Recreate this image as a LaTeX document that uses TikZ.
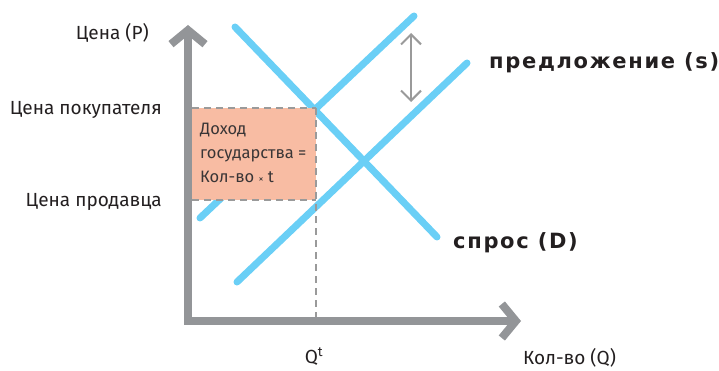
\documentclass[tikz,border=0pt]{standalone}
\usepackage{fontspec}
\setmainfont{Fira Sans}
\newfontfamily\handfont[LetterSpace=8]{DejaVu Sans}
\usetikzlibrary{arrows.meta,positioning}
\definecolor{ink}{HTML}{231F20}
\definecolor{axisgray}{HTML}{939598}
\definecolor{skyblue}{HTML}{6ACFF6}
\definecolor{salmon}{HTML}{F8BCA3}
\definecolor{guidegray}{HTML}{9A9A9A}
\tikzset{
    axis/.style={
        {Straight Barb[length=14pt,width=34pt]}-{Straight Barb[length=14pt,width=34pt]},
        line width=8pt,
        line join=miter,
        color=axisgray
    },
    curveline/.style={
        line width=7pt,
        line cap=round,
        color=skyblue
    },
    guide/.style={
        dash pattern=on 7pt off 5pt,
        line width=2.5pt,
        color=guidegray
    },
    shiftarrow/.style={
        {Straight Barb[length=10pt,width=20pt]}-{Straight Barb[length=10pt,width=20pt]},
        line width=2pt,
        color=guidegray
    },
    axislabel/.style={
        font=\fontsize{19}{22}\selectfont,
        text=ink,
        inner sep=0pt
    },
    curvelabel/.style={
        font=\handfont\fontsize{21}{22}\selectfont\bfseries,
        text=ink,
        inner sep=0pt
    }
}

\begin{document}
\begin{tikzpicture}[x=1pt,y=-1pt]

    \useasboundingbox (0,0) rectangle (719,371);

    % Points
    \coordinate (origin) at (188,321);
    \coordinate (ytip) at (188,25);
    \coordinate (xtip) at (521,321);
    \coordinate (buyer) at (316,108);
    \coordinate (seller) at (316,200);
    \coordinate (qt) at (316,321);
    \coordinate (buyeraxis) at (192,108);
    \coordinate (selleraxis) at (192,200);

    % Courbes
    \coordinate (dtop) at (235,27);
    \coordinate (dbot) at (437,237);
    \coordinate (sabot) at (200,218);
    \coordinate (satop) at (414,16);
    \coordinate (sbbot) at (237,282);
    \coordinate (sbtop) at (467,63);

    \draw[curveline] (dtop) -- (dbot);
    \draw[curveline] (sabot) -- (satop);
    \draw[curveline] (sbbot) -- (sbtop);

    % Recette fiscale
    \fill[salmon]
        (buyeraxis) rectangle (seller);

    \draw[guide]
        (buyeraxis) -- (buyer);
    \draw[guide]
        (selleraxis) -- (seller);
    \draw[guide]
        (buyer) -- (qt);

    % Axes
    \draw[axis]
        (ytip) -- (origin) -- (xtip);

    % Decalage de l'offre
    \coordinate (shifttop) at (411,33);
    \coordinate (shiftbot) at (411,102);
    \draw[shiftarrow]
        (shifttop) -- (shiftbot);

    % Labels
    \node[
        axislabel,
        anchor=east
    ]
        (pname) at (149,33)
        {Цена (P)};

    \node[
        axislabel,
        anchor=east
    ]
        (buyername) at (162,110)
        {Цена покупателя};

    \node[
        axislabel,
        anchor=east
    ]
        (sellername) at (162,202)
        {Цена продавца};

    \node[
        axislabel,
        anchor=north
    ]
        (qtname) at (314,348)
        {Q\textsuperscript{t}};

    \node[
        axislabel,
        anchor=west
    ]
        (qname) at (523,358)
        {Кол-во (Q)};

    \node[
        axislabel,
        anchor=north west,
        align=left,
        font=\fontsize{16.5}{24}\selectfont,
        text=ink!90
    ]
        (revenue) at (200,123)
        {Доход\\государства =\\Кол-во {\fontsize{10}{10}\selectfont ×} t};

    \node[
        curvelabel,
        anchor=west
    ]
        (sname) at (489,63)
        {предложение (s)};

    \node[
        curvelabel,
        anchor=west
    ]
        (dname) at (453,243)
        {спрос (D)};

\end{tikzpicture}
\end{document}
